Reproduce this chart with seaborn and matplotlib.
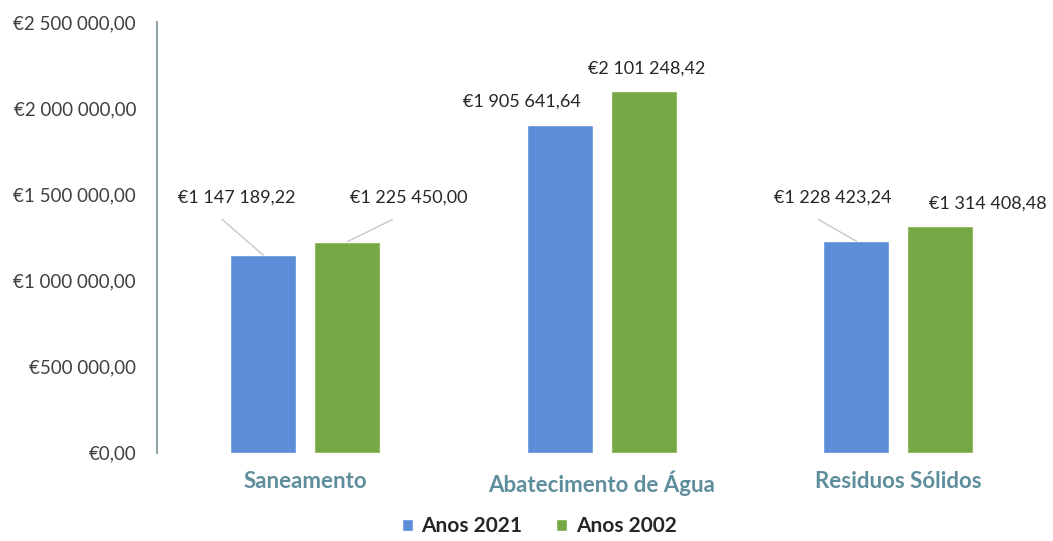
import matplotlib
matplotlib.use("Agg")
import matplotlib.pyplot as plt
import seaborn as sns
import pandas as pd
from matplotlib.patches import Patch

categories = ["Saneamento", "Abatecimento de Água", "Residuos Sólidos"]
series_names = ["Anos 2021", "Anos 2002"]
values_2021 = [1147189.22, 1905641.64, 1228423.24]
values_2002 = [1225450.00, 2101248.42, 1314408.48]
y_ticks = [0, 500000, 1000000, 1500000, 2000000, 2500000]

colors = ["#5B8ED6", "#76A946"]

def fmt_eur(v):
    s = f"{v:,.2f}"
    s = s.replace(",", " ").replace(".", ",")
    return "€" + s

df = pd.DataFrame({
    "categoria": categories * 2,
    "serie": [series_names[0]] * 3 + [series_names[1]] * 3,
    "valor": values_2021 + values_2002,
})

sns.set_theme(style="white")
plt.rcParams['font.family'] = ['Lato', 'DejaVu Sans']

fig = plt.figure(figsize=(10.53, 5.41), dpi=100)
ax = fig.add_axes([0.149, 0.163, 0.845, 0.796])

sns.barplot(data=df, x="categoria", y="valor", hue="serie", order=categories,
            hue_order=series_names, palette=colors, width=0.566, gap=0.215,
            saturation=1, ax=ax, legend=False)

ax.set_ylim(0, 2500000)
ax.set_xlim(-0.5, 2.5)
ax.set_yticks(y_ticks)
ax.set_yticklabels([fmt_eur(v) for v in y_ticks], fontsize=13.5, color="#404040")
ax.tick_params(axis="y", length=0, pad=15)
ax.tick_params(axis="x", length=0, pad=13)
ax.set_xticks(range(3))
ax.set_xticklabels(categories, fontsize=16, fontweight="bold", color="#5E8E9C")
ax.set_xlabel("")
ax.set_ylabel("")
for side in ["top", "right", "bottom"]:
    ax.spines[side].set_visible(False)
ax.spines["left"].set_color("#8FA3A8")
ax.spines["left"].set_linewidth(1.5)

bars = [p for p in ax.patches if p.get_height() > 0]
bars_2021 = sorted(bars[:3], key=lambda p: p.get_x())
bars_2002 = sorted(bars[3:6], key=lambda p: p.get_x())

label_pos = {
    (0, 0): (-0.23, 1480000, True),
    (0, 1): (0.35, 1480000, True),
    (1, 0): (-0.27, 2040000, False),
    (1, 1): (0.15, 2230000, False),
    (2, 0): (-0.22, 1480000, True),
    (2, 1): (0.30, 1445000, False),
}
for s_idx, (blist, vals) in enumerate([(bars_2021, values_2021), (bars_2002, values_2002)]):
    for c_idx, (b, v) in enumerate(zip(blist, vals)):
        dx, ly, leader = label_pos[(c_idx, s_idx)]
        bx = b.get_x() + b.get_width() / 2
        lx = c_idx + dx
        ax.text(lx, ly, fmt_eur(v), ha="center", va="center", fontsize=13, color="#262626")
        if leader:
            if s_idx == 0:
                ax.plot([lx - 0.05, bx], [ly - 125000, v], color="#C8C8C8", lw=1)
            else:
                ax.plot([lx - 0.055, bx], [ly - 125000, v], color="#C8C8C8", lw=1)

handles = [Patch(facecolor=c, label=n) for c, n in zip(colors, series_names)]
fig.legend(handles=handles, loc="lower center", bbox_to_anchor=(0.512, -0.026), ncol=2,
           frameon=False, prop={"size": 15, "weight": "bold"}, handlelength=0.55,
           handleheight=0.55, handletextpad=0.4, columnspacing=1.6, labelcolor="#262626")

fig.savefig("out.png", dpi=100)
